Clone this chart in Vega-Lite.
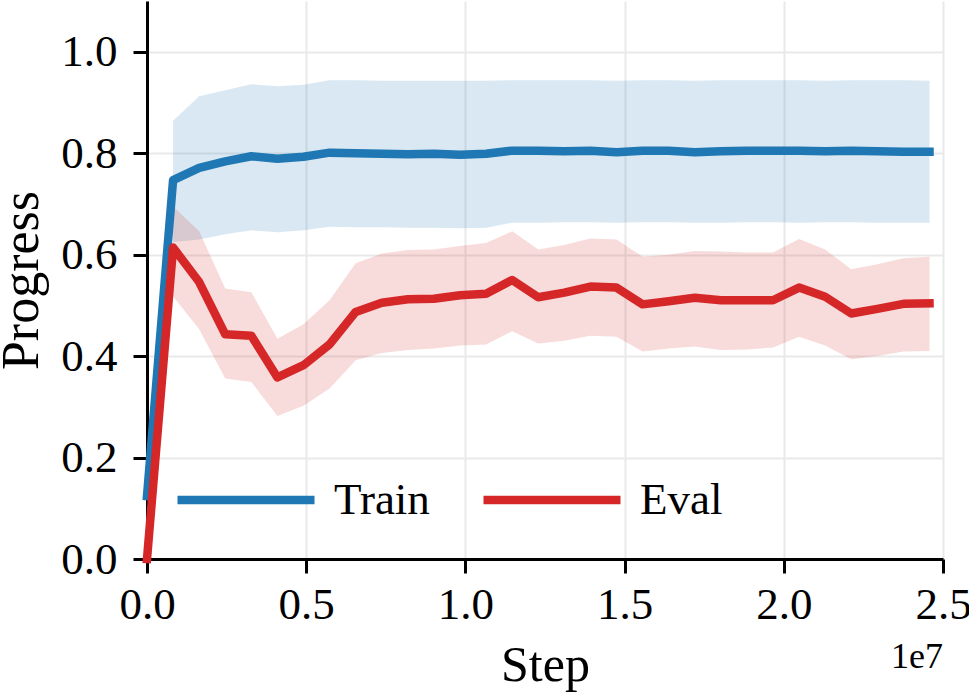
{
  "$schema": "https://vega.github.io/schema/vega-lite/v6.json",
  "autosize": {"type": "none"},
  "width": 796,
  "height": 558,
  "padding": {"left": 147, "top": 1, "right": 26, "bottom": 133},
  "background": "white",
  "title": {
    "text": "1e7",
    "orient": "bottom",
    "anchor": "end",
    "frame": "group",
    "baseline": "alphabetic",
    "offset": -22,
    "font": "Liberation Serif",
    "fontSize": 36,
    "fontWeight": "normal",
    "color": "black"
  },
  "config": {
    "view": {"stroke": null},
    "font": "Liberation Serif",
    "axis": {
      "domainColor": "black",
      "domainWidth": 3,
      "tickColor": "black",
      "tickWidth": 3,
      "tickSize": 14,
      "gridColor": "#e9e9e9",
      "gridWidth": 2,
      "labelFont": "Liberation Serif",
      "labelFontSize": 45,
      "labelColor": "black",
      "labelFlush": false,
      "labelOverlap": false,
      "titleFont": "Liberation Serif",
      "titleFontSize": 45,
      "titleFontWeight": "normal",
      "titleColor": "black"
    },
    "legend": {
      "labelFont": "Liberation Serif",
      "labelFontSize": 45,
      "labelColor": "black"
    }
  },
  "data": {
    "values": [
      {"step": 0, "series": "Train", "mean": 0.124, "lo": null, "hi": null},
      {"step": 819200, "series": "Train", "mean": 0.747, "lo": 0.625, "hi": 0.864},
      {"step": 1638400, "series": "Train", "mean": 0.771, "lo": 0.630, "hi": 0.912},
      {"step": 2457600, "series": "Train", "mean": 0.784, "lo": 0.640, "hi": 0.924},
      {"step": 3276800, "series": "Train", "mean": 0.794, "lo": 0.648, "hi": 0.936},
      {"step": 4096000, "series": "Train", "mean": 0.789, "lo": 0.644, "hi": 0.932},
      {"step": 4915200, "series": "Train", "mean": 0.793, "lo": 0.648, "hi": 0.935},
      {"step": 5734400, "series": "Train", "mean": 0.801, "lo": 0.655, "hi": 0.944},
      {"step": 6553600, "series": "Train", "mean": 0.800, "lo": 0.654, "hi": 0.944},
      {"step": 7372800, "series": "Train", "mean": 0.799, "lo": 0.654, "hi": 0.943},
      {"step": 8192000, "series": "Train", "mean": 0.798, "lo": 0.653, "hi": 0.943},
      {"step": 9011200, "series": "Train", "mean": 0.799, "lo": 0.653, "hi": 0.943},
      {"step": 9830400, "series": "Train", "mean": 0.797, "lo": 0.652, "hi": 0.943},
      {"step": 10649600, "series": "Train", "mean": 0.799, "lo": 0.653, "hi": 0.943},
      {"step": 11468800, "series": "Train", "mean": 0.805, "lo": 0.663, "hi": 0.944},
      {"step": 12288000, "series": "Train", "mean": 0.805, "lo": 0.663, "hi": 0.944},
      {"step": 13107200, "series": "Train", "mean": 0.804, "lo": 0.664, "hi": 0.944},
      {"step": 13926400, "series": "Train", "mean": 0.805, "lo": 0.664, "hi": 0.944},
      {"step": 14745600, "series": "Train", "mean": 0.802, "lo": 0.663, "hi": 0.943},
      {"step": 15564800, "series": "Train", "mean": 0.805, "lo": 0.664, "hi": 0.944},
      {"step": 16384000, "series": "Train", "mean": 0.805, "lo": 0.664, "hi": 0.944},
      {"step": 17203200, "series": "Train", "mean": 0.802, "lo": 0.663, "hi": 0.943},
      {"step": 18022400, "series": "Train", "mean": 0.804, "lo": 0.663, "hi": 0.944},
      {"step": 18841600, "series": "Train", "mean": 0.805, "lo": 0.664, "hi": 0.944},
      {"step": 19660800, "series": "Train", "mean": 0.805, "lo": 0.664, "hi": 0.944},
      {"step": 20480000, "series": "Train", "mean": 0.805, "lo": 0.663, "hi": 0.944},
      {"step": 21299200, "series": "Train", "mean": 0.804, "lo": 0.664, "hi": 0.943},
      {"step": 22118400, "series": "Train", "mean": 0.805, "lo": 0.664, "hi": 0.944},
      {"step": 22937600, "series": "Train", "mean": 0.804, "lo": 0.663, "hi": 0.944},
      {"step": 23756800, "series": "Train", "mean": 0.803, "lo": 0.663, "hi": 0.944},
      {"step": 24576000, "series": "Train", "mean": 0.803, "lo": 0.663, "hi": 0.943},
      {"step": 0, "series": "Eval", "mean": 0.0, "lo": null, "hi": null},
      {"step": 819200, "series": "Eval", "mean": 0.614, "lo": 0.518, "hi": 0.695},
      {"step": 1638400, "series": "Eval", "mean": 0.546, "lo": 0.453, "hi": 0.646},
      {"step": 2457600, "series": "Eval", "mean": 0.443, "lo": 0.356, "hi": 0.533},
      {"step": 3276800, "series": "Eval", "mean": 0.440, "lo": 0.349, "hi": 0.526},
      {"step": 4096000, "series": "Eval", "mean": 0.358, "lo": 0.282, "hi": 0.434},
      {"step": 4915200, "series": "Eval", "mean": 0.382, "lo": 0.302, "hi": 0.463},
      {"step": 5734400, "series": "Eval", "mean": 0.423, "lo": 0.336, "hi": 0.510},
      {"step": 6553600, "series": "Eval", "mean": 0.487, "lo": 0.392, "hi": 0.583},
      {"step": 7372800, "series": "Eval", "mean": 0.505, "lo": 0.406, "hi": 0.602},
      {"step": 8192000, "series": "Eval", "mean": 0.512, "lo": 0.412, "hi": 0.609},
      {"step": 9011200, "series": "Eval", "mean": 0.513, "lo": 0.415, "hi": 0.610},
      {"step": 9830400, "series": "Eval", "mean": 0.520, "lo": 0.421, "hi": 0.617},
      {"step": 10649600, "series": "Eval", "mean": 0.523, "lo": 0.423, "hi": 0.623},
      {"step": 11468800, "series": "Eval", "mean": 0.550, "lo": 0.449, "hi": 0.646},
      {"step": 12288000, "series": "Eval", "mean": 0.516, "lo": 0.425, "hi": 0.610},
      {"step": 13107200, "series": "Eval", "mean": 0.525, "lo": 0.430, "hi": 0.619},
      {"step": 13926400, "series": "Eval", "mean": 0.537, "lo": 0.440, "hi": 0.632},
      {"step": 14745600, "series": "Eval", "mean": 0.535, "lo": 0.438, "hi": 0.630},
      {"step": 15564800, "series": "Eval", "mean": 0.502, "lo": 0.409, "hi": 0.596},
      {"step": 16384000, "series": "Eval", "mean": 0.508, "lo": 0.415, "hi": 0.600},
      {"step": 17203200, "series": "Eval", "mean": 0.515, "lo": 0.419, "hi": 0.607},
      {"step": 18022400, "series": "Eval", "mean": 0.510, "lo": 0.412, "hi": 0.606},
      {"step": 18841600, "series": "Eval", "mean": 0.510, "lo": 0.413, "hi": 0.604},
      {"step": 19660800, "series": "Eval", "mean": 0.510, "lo": 0.417, "hi": 0.604},
      {"step": 20480000, "series": "Eval", "mean": 0.535, "lo": 0.438, "hi": 0.631},
      {"step": 21299200, "series": "Eval", "mean": 0.517, "lo": 0.421, "hi": 0.610},
      {"step": 22118400, "series": "Eval", "mean": 0.484, "lo": 0.394, "hi": 0.571},
      {"step": 22937600, "series": "Eval", "mean": 0.493, "lo": 0.400, "hi": 0.581},
      {"step": 23756800, "series": "Eval", "mean": 0.503, "lo": 0.409, "hi": 0.593},
      {"step": 24576000, "series": "Eval", "mean": 0.504, "lo": 0.410, "hi": 0.596}
    ]
  },
  "encoding": {
    "x": {
      "field": "step",
      "type": "quantitative",
      "title": "Step",
      "scale": {"domain": [0, 25000000], "nice": false, "zero": true},
      "axis": {
        "values": [0, 5000000, 10000000, 15000000, 20000000, 25000000],
        "labelExpr": "format(datum.value / 10000000, '.1f')",
        "labelPadding": 9,
        "titleFontSize": 50,
        "titleBaseline": "alphabetic",
        "titleY": 121
      }
    },
    "color": {
      "field": "series",
      "type": "nominal",
      "scale": {"domain": ["Train", "Eval"], "range": ["#1f77b4", "#d62728"]},
      "legend": {
        "title": null,
        "orient": "none",
        "direction": "horizontal",
        "legendX": 26,
        "legendY": 426,
        "padding": 0,
        "symbolType": "stroke",
        "symbolSize": 18769,
        "symbolStrokeWidth": 8.5,
        "symbolOpacity": 1,
        "labelOffset": 15,
        "columnPadding": 36
      }
    }
  },
  "layer": [
    {
      "mark": {"type": "area", "opacity": 0.17},
      "encoding": {
        "y": {
          "field": "lo",
          "type": "quantitative",
          "title": "Progress",
          "scale": {"domain": [0, 1.1], "nice": false},
          "axis": {
            "values": [0, 0.2, 0.4, 0.6, 0.8, 1.0],
            "format": ".1f",
            "labelPadding": 16,
            "titleX": -110,
            "titleFontSize": 52,
            "titleBaseline": "alphabetic"
          }
        },
        "y2": {"field": "hi"}
      }
    },
    {
      "transform": [{"filter": "datum.series === 'Train'"}],
      "mark": {"type": "line", "strokeWidth": 8.5, "strokeCap": "square", "strokeJoin": "round"},
      "encoding": {
        "y": {"field": "mean", "type": "quantitative"}
      }
    },
    {
      "transform": [{"filter": "datum.series === 'Eval'"}],
      "mark": {"type": "line", "strokeWidth": 8.5, "strokeCap": "square", "strokeJoin": "round"},
      "encoding": {
        "y": {"field": "mean", "type": "quantitative"}
      }
    }
  ]
}
